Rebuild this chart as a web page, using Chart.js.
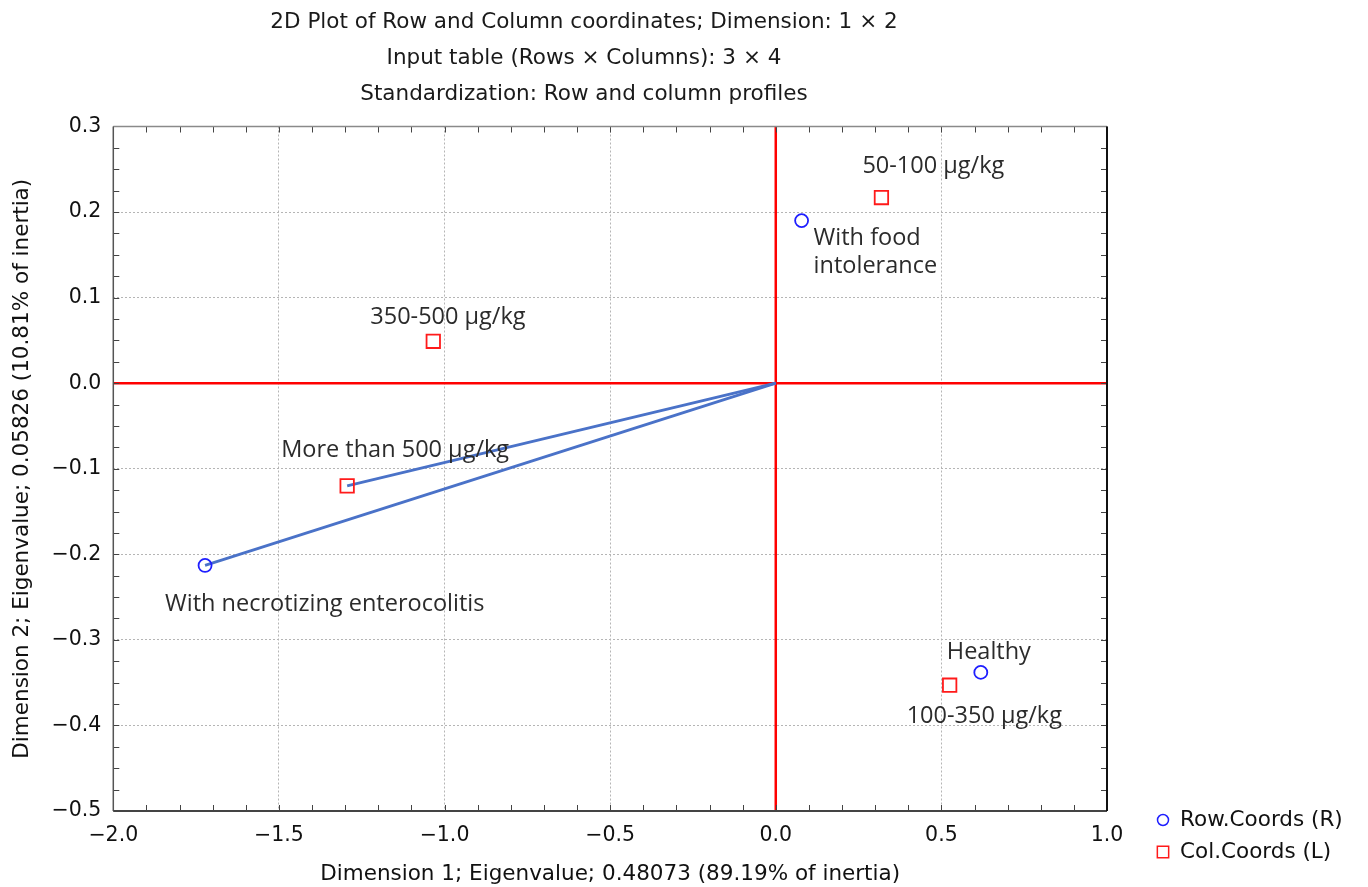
<!DOCTYPE html>
<html>
<head>
<meta charset="utf-8">
<script src="https://cdn.jsdelivr.net/npm/chart.js@4.4.1/dist/chart.umd.min.js"></script>
<style>
html,body{margin:0;padding:0;background:#fff;}
#c{display:block;}
</style>
</head>
<body>
<canvas id="c" width="1368" height="887"></canvas>
<script>
// ---------- data ----------
const titleLines = [
  '2D Plot of Row and Column coordinates; Dimension: 1 \u00d7 2',
  'Input table (Rows \u00d7 Columns): 3 \u00d7 4',
  'Standardization: Row and column profiles'
];
const xAxisTitle = 'Dimension 1; Eigenvalue; 0.48073 (89.19% of inertia)';
const yAxisTitle = 'Dimension 2; Eigenvalue; 0.05826 (10.81% of inertia)';

const legendLabels = ['Row.Coords (R)', 'Col.Coords (L)'];

const rowNames = ['With food\nintolerance', 'With necrotizing enterocolitis', 'Healthy'];
const rowX = [0.078, -1.723, 0.619];
const rowY = [0.190, -0.213, -0.338];

const colNames = ['50-100 \u03bcg/kg', '350-500 \u03bcg/kg', 'More than 500 \u03bcg/kg', '100-350 \u03bcg/kg'];
const colX = [0.319, -1.034, -1.294, 0.525];
const colY = [0.217, 0.049, -0.120, -0.353];

// connectors from the origin: [group, index]
const connectors = [['col', 2], ['row', 1]];

const xMin = -2.0, xMax = 1.0, xStep = 0.5, xMinorStep = 0.1;
const yMin = -0.5, yMax = 0.3, yStep = 0.1, yMinorStep = 0.025;

// ---------- styles (label offsets in px relative to the point) ----------
const rowLabelOffsets = [[12, 18], [-40, 39], [-34, -20]];
const colLabelOffsets = [[-19, -31], [-63, -24], [-66, -36], [-43, 31]];

const AXIS_FONT = 'DejaVu Sans';
const LABEL_FONT = 'Open Sans';
const TITLE_CENTER_X = 584;

const fmt = v => {
  const r = Math.round(v * 10) / 10;
  if (Math.abs(r) < 1e-9) return '0.0';
  return (r < 0 ? '\u2212' : '') + Math.abs(r).toFixed(1);
};

const rowPoints = rowX.map((x, i) => ({x, y: rowY[i]}));
const colPoints = colX.map((x, i) => ({x, y: colY[i]}));

const connectorDatasets = connectors.map(([g, i]) => ({
  type: 'line',
  label: 'link',
  data: [{x: 0, y: 0}, g === 'col' ? colPoints[i] : rowPoints[i]],
  borderColor: '#4a72c8',
  borderWidth: 2.8,
  pointRadius: 0,
  showLine: true,
  fill: false,
  order: 2
}));

const refDatasets = [
  {data: [{x: xMin, y: 0}, {x: xMax, y: 0}]},
  {data: [{x: 0, y: yMin}, {x: 0, y: yMax}]}
].map(d => Object.assign(d, {
  type: 'line', label: 'ref', borderColor: '#ff0000', borderWidth: 2.5,
  pointRadius: 0, showLine: true, fill: false, order: 3
}));

const pointLabelsPlugin = {
  id: 'pointLabels',
  afterDatasetsDraw(chart) {
    const ctx = chart.ctx;
    ctx.save();
    ctx.font = '23.5px "' + LABEL_FONT + '"';
    ctx.fillStyle = '#2b2b2b';
    ctx.textAlign = 'left';
    ctx.textBaseline = 'middle';
    chart.data.datasets.forEach((ds, di) => {
      if (!ds.names) return;
      const meta = chart.getDatasetMeta(di);
      meta.data.forEach((el, i) => {
        const [dx, dy] = ds.labelOffsets[i];
        ds.names[i].split('\n').forEach((line, li) => {
          ctx.fillText(line, el.x + dx, el.y + dy + li * 28);
        });
      });
    });
    ctx.restore();
  }
};

const frameTicksPlugin = {
  id: 'frameTicks',
  afterLayout(chart) {
    // centre the title block like the original figure
    const tb = chart.titleBlock;
    if (tb) { tb.left = 2 * TITLE_CENTER_X - tb.right; tb.width = tb.right - tb.left; }
  },
  afterDatasetsDraw(chart) {
    const {ctx, chartArea: a, scales} = chart;
    const xs = scales.x, ys = scales.y;
    const L = 6;
    ctx.save();
    ctx.lineWidth = 1;
    ctx.strokeStyle = '#444';
    ctx.beginPath();
    const nx = Math.round((xMax - xMin) / xMinorStep);
    for (let k = 1; k < nx; k++) {
      const px = Math.round(xs.getPixelForValue(xMin + k * xMinorStep)) + 0.5;
      ctx.moveTo(px, a.bottom); ctx.lineTo(px, a.bottom - L);
      ctx.moveTo(px, a.top); ctx.lineTo(px, a.top + L);
    }
    const ny = Math.round((yMax - yMin) / yMinorStep);
    for (let k = 1; k < ny; k++) {
      const py = Math.round(ys.getPixelForValue(yMin + k * yMinorStep)) + 0.5;
      ctx.moveTo(a.left, py); ctx.lineTo(a.left + L, py);
      ctx.moveTo(a.right, py); ctx.lineTo(a.right - L, py);
    }
    ctx.stroke();
    // frame
    const side = (c, w, x1, y1, x2, y2) => {
      ctx.beginPath(); ctx.strokeStyle = c; ctx.lineWidth = w;
      ctx.moveTo(x1, y1); ctx.lineTo(x2, y2); ctx.stroke();
    };
    side('#8a8a8a', 1.5, a.left, a.top, a.right, a.top);
    side('#555', 1.5, a.left, a.top, a.left, a.bottom);
    side('#444', 2, a.left, a.bottom, a.right, a.bottom);
    side('#111', 2, a.right, a.top, a.right, a.bottom);
    ctx.restore();
  }
};

const customLegendPlugin = {
  id: 'customLegend',
  afterDraw(chart) {
    const {ctx, chartArea: a} = chart;
    ctx.save();
    ctx.font = '21.5px "' + AXIS_FONT + '"';
    ctx.textAlign = 'left';
    ctx.textBaseline = 'middle';
    const items = chart.data.datasets.filter(d => d.names);
    items.forEach((ds, i) => {
      const x = a.right + 56, y = a.bottom + 9 + i * 32;
      ctx.strokeStyle = ds.borderColor;
      ctx.fillStyle = 'rgba(0,0,0,0)';
      ctx.lineWidth = 1.5;
      Chart.helpers.drawPoint(ctx, {
        pointStyle: ds.pointStyle,
        radius: ds.pointStyle === 'circle' ? 5.5 : 8,
        rotation: 0,
        borderWidth: 1.5
      }, x, y);
      ctx.fillStyle = '#111';
      ctx.fillText(ds.label, x + 17, y);
    });
    ctx.restore();
  }
};

new Chart(document.getElementById('c'), {
  type: 'scatter',
  data: {
    datasets: [
      {
        label: legendLabels[0], names: rowNames, labelOffsets: rowLabelOffsets,
        data: rowPoints, pointStyle: 'circle', pointRadius: 6.5, pointHoverRadius: 6.5,
        borderColor: '#1f1fff', backgroundColor: 'rgba(0,0,0,0)', pointBorderWidth: 1.8, order: 0
      },
      {
        label: legendLabels[1], names: colNames, labelOffsets: colLabelOffsets,
        data: colPoints, pointStyle: 'rect', pointRadius: 9.5, pointHoverRadius: 9.5,
        borderColor: '#ff1a1a', backgroundColor: 'rgba(0,0,0,0)', pointBorderWidth: 1.8, order: 1
      },
      ...connectorDatasets,
      ...refDatasets
    ]
  },
  options: {
    responsive: false,
    animation: false,
    devicePixelRatio: 1,
    layout: {padding: {left: 0, right: 261, top: 0, bottom: 0}},
    plugins: {
      legend: {display: false},
      tooltip: {enabled: false},
      title: {
        display: true,
        text: titleLines,
        color: '#1a1a1a',
        font: {family: AXIS_FONT, size: 21.5, weight: 'normal', lineHeight: '36px'},
        padding: {top: 4, bottom: 14.5},
        fullSize: true
      }
    },
    scales: {
      x: {
        type: 'linear', min: xMin, max: xMax,
        afterFit: s => { s.height = 76; },
        ticks: {stepSize: xStep, callback: v => fmt(v), color: '#111', padding: 12,
          font: {family: AXIS_FONT, size: 20.5}, maxRotation: 0, autoSkip: false},
        grid: {color: '#b5b5b5', lineWidth: 1, drawTicks: false},
        border: {display: false, dash: [2, 2]},
        title: {display: true, text: xAxisTitle, color: '#111',
          font: {family: AXIS_FONT, size: 21.5}, padding: {top: 0, bottom: 0}}
      },
      y: {
        type: 'linear', min: yMin, max: yMax,
        afterFit: s => { s.width = 113.3; },
        ticks: {stepSize: yStep, callback: v => fmt(v), color: '#111', padding: 12,
          font: {family: AXIS_FONT, size: 20.5}, autoSkip: false},
        grid: {color: '#b5b5b5', lineWidth: 1, drawTicks: false},
        border: {display: false, dash: [2, 2]},
        title: {display: true, text: yAxisTitle, color: '#111',
          font: {family: AXIS_FONT, size: 21.5}, padding: {top: 9.4, bottom: 0}}
      }
    }
  },
  plugins: [pointLabelsPlugin, frameTicksPlugin, customLegendPlugin]
});
</script>
</body>
</html>
